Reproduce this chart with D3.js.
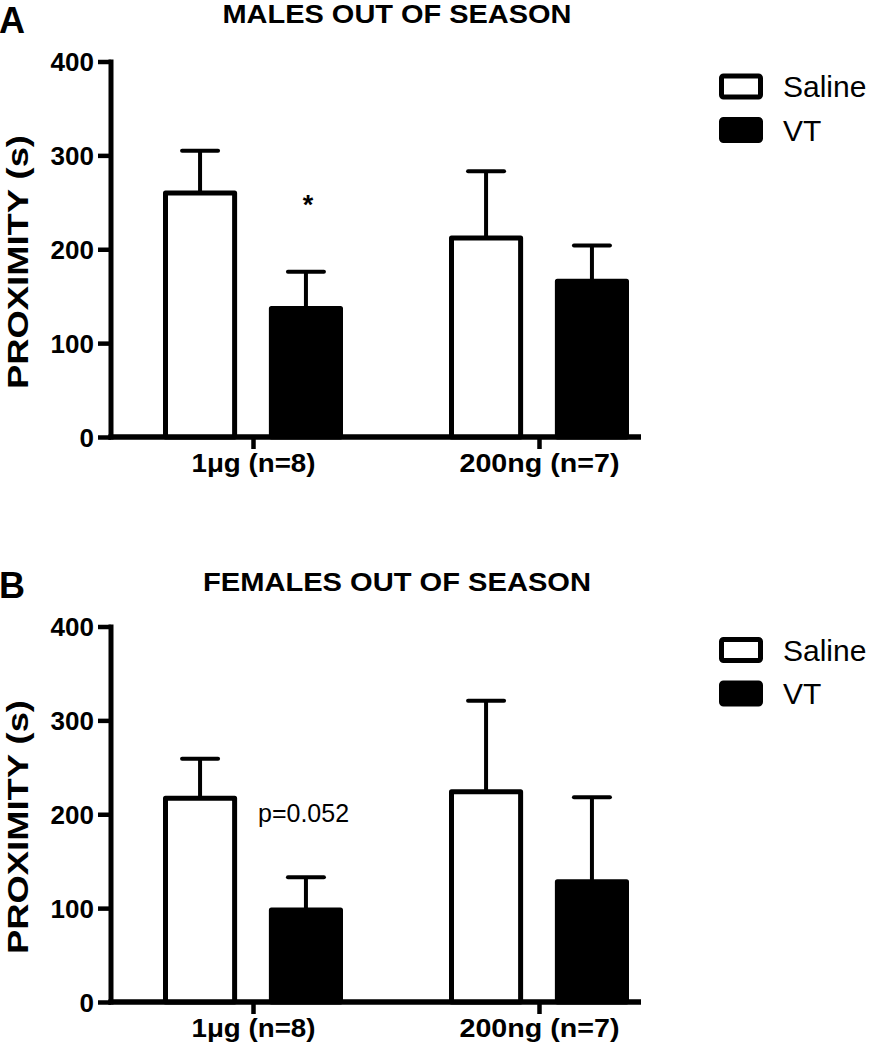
<!DOCTYPE html>
<html>
<head>
<meta charset="utf-8">
<script src="https://cdn.jsdelivr.net/npm/d3@7"></script>
<style>
  html, body { margin: 0; padding: 0; background: #fff; }
  svg { display: block; }
  text { font-family: "Liberation Sans", Arial, Helvetica, sans-serif; fill: #000; }
</style>
</head>
<body>
<script>
// ---- Data ----
const groups = ["1\u03bcg (n=8)", "200ng (n=7)"];
const series = ["Saline", "VT"];
const yTicks = [0, 100, 200, 300, 400];

const malesSaline = [260, 212];
const malesSalineSEM = [45, 71];
const malesVT = [137, 166];
const malesVTSEM = [39, 38];

const femalesSaline = [217, 224];
const femalesSalineSEM = [42, 97];
const femalesVT = [98, 128];
const femalesVTSEM = [35, 90];

const panelLetters = ["A", "B"];
const panelTitles = ["MALES OUT OF SEASON", "FEMALES OUT OF SEASON"];
const yLabel = "PROXIMITY (s)";
const annotations = ["*", "p=0.052"];

// ---- Layout ----
const W = 870, H = 1050;
const svg = d3.select("body").append("svg").attr("width", W).attr("height", H);

const panels = [
  { offset: 0, letter: panelLetters[0], title: panelTitles[0], titleLen: 349, titleY: 23,
    saline: malesSaline, salineSEM: malesSalineSEM, vt: malesVT, vtSEM: malesVTSEM,
    note: annotations[0], noteBold: true },
  { offset: 565, letter: panelLetters[1], title: panelTitles[1], titleLen: 388, titleY: 26,
    saline: femalesSaline, salineSEM: femalesSalineSEM, vt: femalesVT, vtSEM: femalesVTSEM,
    note: annotations[1], noteBold: false }
];

const axisX0 = 111, axisX1 = 641;
const SW = 5; // bar/axis stroke width

panels.forEach((p, pi) => {
  const g = svg.append("g").attr("transform", `translate(0,${p.offset})`);

  const y = d3.scaleLinear().domain([0, 400]).range([437, 61.5]);
  const x0 = d3.scalePoint().domain(groups).range([253, 539]);
  const x1 = d3.scaleBand().domain(series).range([-90, 90]).paddingInner(0.3).paddingOuter(0);

  // Panel letter
  g.append("text").attr("x", -1).attr("y", 33)
    .attr("font-size", 36).attr("font-weight", "bold").text(p.letter);

  // Title
  g.append("text").attr("x", 397).attr("y", p.titleY)
    .attr("text-anchor", "middle").attr("font-size", 25).attr("font-weight", "bold")
    .attr("textLength", p.titleLen).attr("lengthAdjust", "spacingAndGlyphs")
    .text(p.title);

  // Y axis
  const yAxis = d3.axisLeft(y).tickValues(yTicks).tickSize(13).tickPadding(4).tickFormat(d3.format("d"));
  const ya = g.append("g").attr("transform", `translate(${axisX0},0)`).call(yAxis);
  ya.select(".domain").attr("d", `M0,${y(400) - 2}V${y(0) + 2.5}`)
    .attr("stroke", "#000").attr("stroke-width", SW).attr("fill", "none");
  ya.selectAll(".tick line").attr("stroke", "#000").attr("stroke-width", 4.5);
  ya.selectAll(".tick text").attr("font-size", 26).attr("font-weight", "bold")
    .attr("font-family", "Liberation Sans, Arial, sans-serif").attr("fill", "#000").attr("dy", "0.36em");

  // Y label
  g.append("text").attr("transform", `translate(28,262) rotate(-90)`)
    .attr("text-anchor", "middle").attr("font-size", 29).attr("font-weight", "bold")
    .attr("textLength", 254).attr("lengthAdjust", "spacingAndGlyphs")
    .text(yLabel);

  // X axis
  const xAxis = d3.axisBottom(x0).tickSize(12).tickPadding(0).tickSizeOuter(0);
  const xa = g.append("g").attr("transform", `translate(0,${y(0)})`).call(xAxis);
  xa.select(".domain").attr("d", `M${axisX0 - 2.5},0H${axisX1}`)
    .attr("stroke", "#000").attr("stroke-width", SW).attr("fill", "none");
  xa.selectAll(".tick line").attr("stroke", "#000").attr("stroke-width", 4.5);
  xa.selectAll(".tick text").attr("font-size", 25).attr("font-weight", "bold")
    .attr("font-family", "Liberation Sans, Arial, sans-serif").attr("fill", "#000")
    .attr("dy", null).attr("y", 35)
    .attr("textLength", (d, i) => [124, 160][i]).attr("lengthAdjust", "spacingAndGlyphs");

  // Bars
  const rows = [];
  groups.forEach((grp, i) => {
    rows.push({ grp, s: "Saline", v: p.saline[i], e: p.salineSEM[i] });
    rows.push({ grp, s: "VT", v: p.vt[i], e: p.vtSEM[i] });
  });

  const bw = x1.bandwidth();
  g.selectAll(".err").data(rows).join("g").attr("class", "err").each(function (d) {
    const cx = x0(d.grp) + x1(d.s) + bw / 2;
    const el = d3.select(this);
    el.append("line").attr("x1", cx).attr("x2", cx).attr("y1", y(d.v)).attr("y2", y(d.v + d.e))
      .attr("stroke", "#000").attr("stroke-width", 4);
    el.append("line").attr("x1", cx - 18).attr("x2", cx + 18).attr("y1", y(d.v + d.e)).attr("y2", y(d.v + d.e))
      .attr("stroke", "#000").attr("stroke-width", 4).attr("stroke-linecap", "round");
  });

  g.selectAll(".bar").data(rows).join("rect").attr("class", "bar")
    .attr("x", d => x0(d.grp) + x1(d.s) + SW / 2)
    .attr("width", bw - SW)
    .attr("y", d => y(d.v))
    .attr("height", d => y(0) - y(d.v))
    .attr("fill", d => d.s === "Saline" ? "#fff" : "#000")
    .attr("stroke", "#000").attr("stroke-width", SW).attr("stroke-linejoin", "round");

  g.append("line").attr("x1", axisX0 - 2.5).attr("x2", axisX1).attr("y1", y(0)).attr("y2", y(0))
    .attr("stroke", "#000").attr("stroke-width", SW);

  // Annotation
  const vtCx = x0(groups[0]) + x1("VT") + bw / 2;
  if (p.noteBold) {
    g.append("text").attr("x", vtCx + 2).attr("y", 214).attr("text-anchor", "middle")
      .attr("font-size", 27).attr("font-weight", "bold").text(p.note);
  } else {
    g.append("text").attr("x", 258).attr("y", 257)
      .attr("font-size", 25).text(p.note);
  }

  // Legend
  const leg = g.append("g").attr("transform", `translate(719,${pi === 0 ? 86.5 : 85})`);
  series.forEach((s, i) => {
    const ly = i * 43.5;
    leg.append("rect").attr("x", SW / 2).attr("y", ly - 10.5).attr("width", 44 - SW).attr("height", 21)
      .attr("rx", 2).attr("fill", s === "Saline" ? "#fff" : "#000")
      .attr("stroke", "#000").attr("stroke-width", SW).attr("stroke-linejoin", "round");
    leg.append("text").attr("x", 64).attr("y", ly + 10.5).attr("font-size", 30).text(s);
  });
});
</script>
</body>
</html>
